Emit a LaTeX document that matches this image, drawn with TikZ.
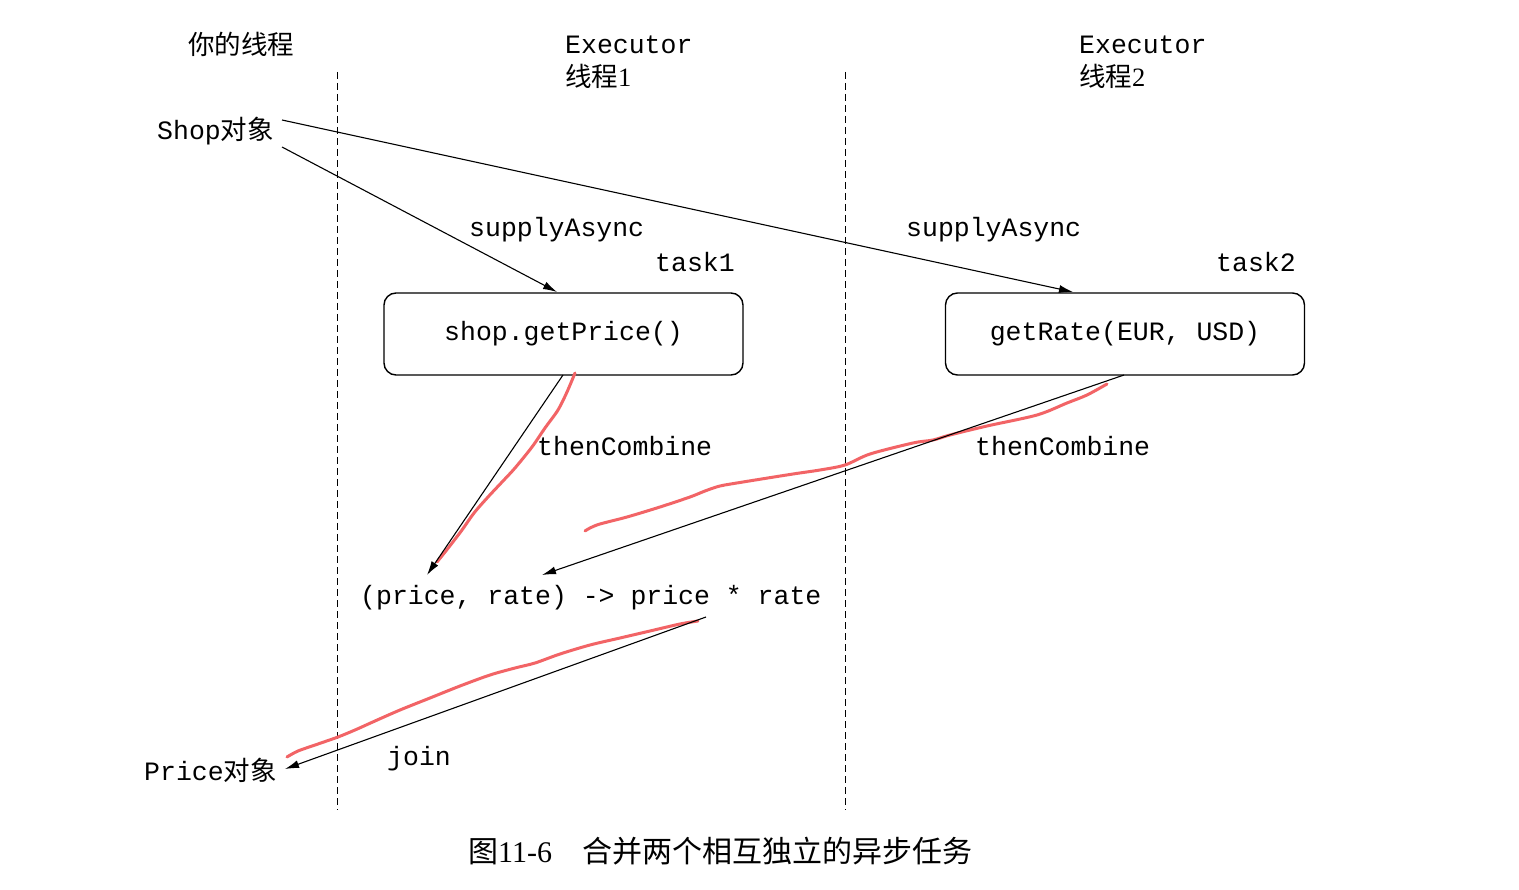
\documentclass[tikz,border=0pt]{standalone}
\usepackage{fontspec}
\setmainfont{Liberation Serif}
\setmonofont{Liberation Mono}
\newfontfamily\cjk{Noto Sans CJK SC}
\usetikzlibrary{arrows.meta}
\definecolor{hl}{HTML}{F26466}
\tikzset{
  txt/.style={inner sep=0pt, anchor=base west, font=\fontsize{26.5}{30}\selectfont\ttfamily},
  ctxt/.style={inner sep=0pt, anchor=base west, font=\fontsize{26.5}{30}\selectfont\cjk},
  task/.style={draw, line width=1.4pt, rounded corners=12pt, minimum width=359pt, minimum height=82pt, inner sep=0pt, font=\fontsize{26.5}{30}\selectfont\ttfamily},
  conn/.style={line width=1.1pt, -{Latex[length=14pt,width=8pt]}},
  sep/.style={line width=1pt, dash pattern=on 7pt off 4pt},
  redmark/.style={draw=hl, line width=3pt, line cap=round, line join=round}
}
\begin{document}
\begin{tikzpicture}[x=1pt,y=-1pt]
\useasboundingbox[fill=white] (0,0) rectangle (1519,890);
% headers
\node[ctxt] (h0) at (188,55) {你的线程};
\node[txt] (h1) at (565,54) {Executor};
\node[inner sep=0pt, anchor=base west, font=\fontsize{26.5}{30}\selectfont] (h1b) at (565,87) {{\cjk 线程}1};
\node[txt] (h2) at (1079,54) {Executor};
\node[inner sep=0pt, anchor=base west, font=\fontsize{26.5}{30}\selectfont] (h2b) at (1079,87) {{\cjk 线程}2};
% separators
\coordinate (d1a) at (337,72); \coordinate (d1b) at (337,810);
\coordinate (d2a) at (845,72); \coordinate (d2b) at (845,810);
\draw[sep] (d1a) -- (d1b);
\draw[sep] (d2a) -- (d2b);
% objects
\node[txt] (shop) at (157,140) {Shop{\cjk 对象}};
\node[txt] (price) at (144,780) {Price{\cjk 对象}};
% tasks
\node[task] (box1) at (563.5,334) {shop.getPrice()};
\node[task] (box2) at (1125,334) {getRate(EUR, USD)};
\node[txt] (t1) at (655,272) {task1};
\node[txt] (t2) at (1216,272) {task2};
\node[txt] (sa1) at (469,237) {supplyAsync};
\node[txt] (sa2) at (906,237) {supplyAsync};
\node[txt] (lam) at (360,604) {(price, rate) -> price * rate};
\node[txt] (tc1) at (537,456) {thenCombine};
\node[txt] (tc2) at (975,456) {thenCombine};
\node[txt] (jn) at (387,765) {join};
% caption
\node[inner sep=0pt, anchor=base west, font=\fontsize{30}{34}\selectfont] (cap) at (468,862) {{\cjk 图}11-6\hspace{30pt}{\cjk 合并两个相互独立的异步任务}};
% connector endpoints
\coordinate (s1) at (282,120);
\coordinate (s2) at (282,147);
\coordinate (b1in) at (557,292);
\coordinate (b2in) at (1073,292);
\coordinate (b1out) at (563,375);
\coordinate (b2out) at (1124,375);
\coordinate (l1) at (427,575);
\coordinate (l2) at (542,575);
\coordinate (lout) at (706,617);
\coordinate (pin) at (285,769);
% red highlights (drawn under)
\draw[redmark] plot[smooth] coordinates {(575,373) (567,392) (558,410) (545,428) (532,447) (515,468) (503,481) (488,497) (474,513) (462,530) (449,547) (437,562)};
\draw[redmark] plot[smooth] coordinates {(1107,384) (1087,395) (1067,403) (1037,415) (987,426) (950,435) (933,440) (913,443) (870,454) (845,465) (820,470) (793,474) (743,482) (720,486) (705,491) (690,497) (660,507) (627,517) (600,524) (590,528) (585,531)};
\draw[redmark] plot[smooth] coordinates {(698,621) (680,624) (650,631) (620,638) (590,645) (560,654) (535,663) (515,668) (490,675) (460,686) (430,698) (400,710) (375,721) (355,730) (338,737) (318,744) (298,751) (287,757)};
% connectors
\draw[conn] (s2) -- (b1in);
\draw[conn] (s1) -- (b2in);
\draw[conn] (b1out) -- (l1);
\draw[conn] (b2out) -- (l2);
\draw[conn] (lout) -- (pin);
\end{tikzpicture}
\end{document}
